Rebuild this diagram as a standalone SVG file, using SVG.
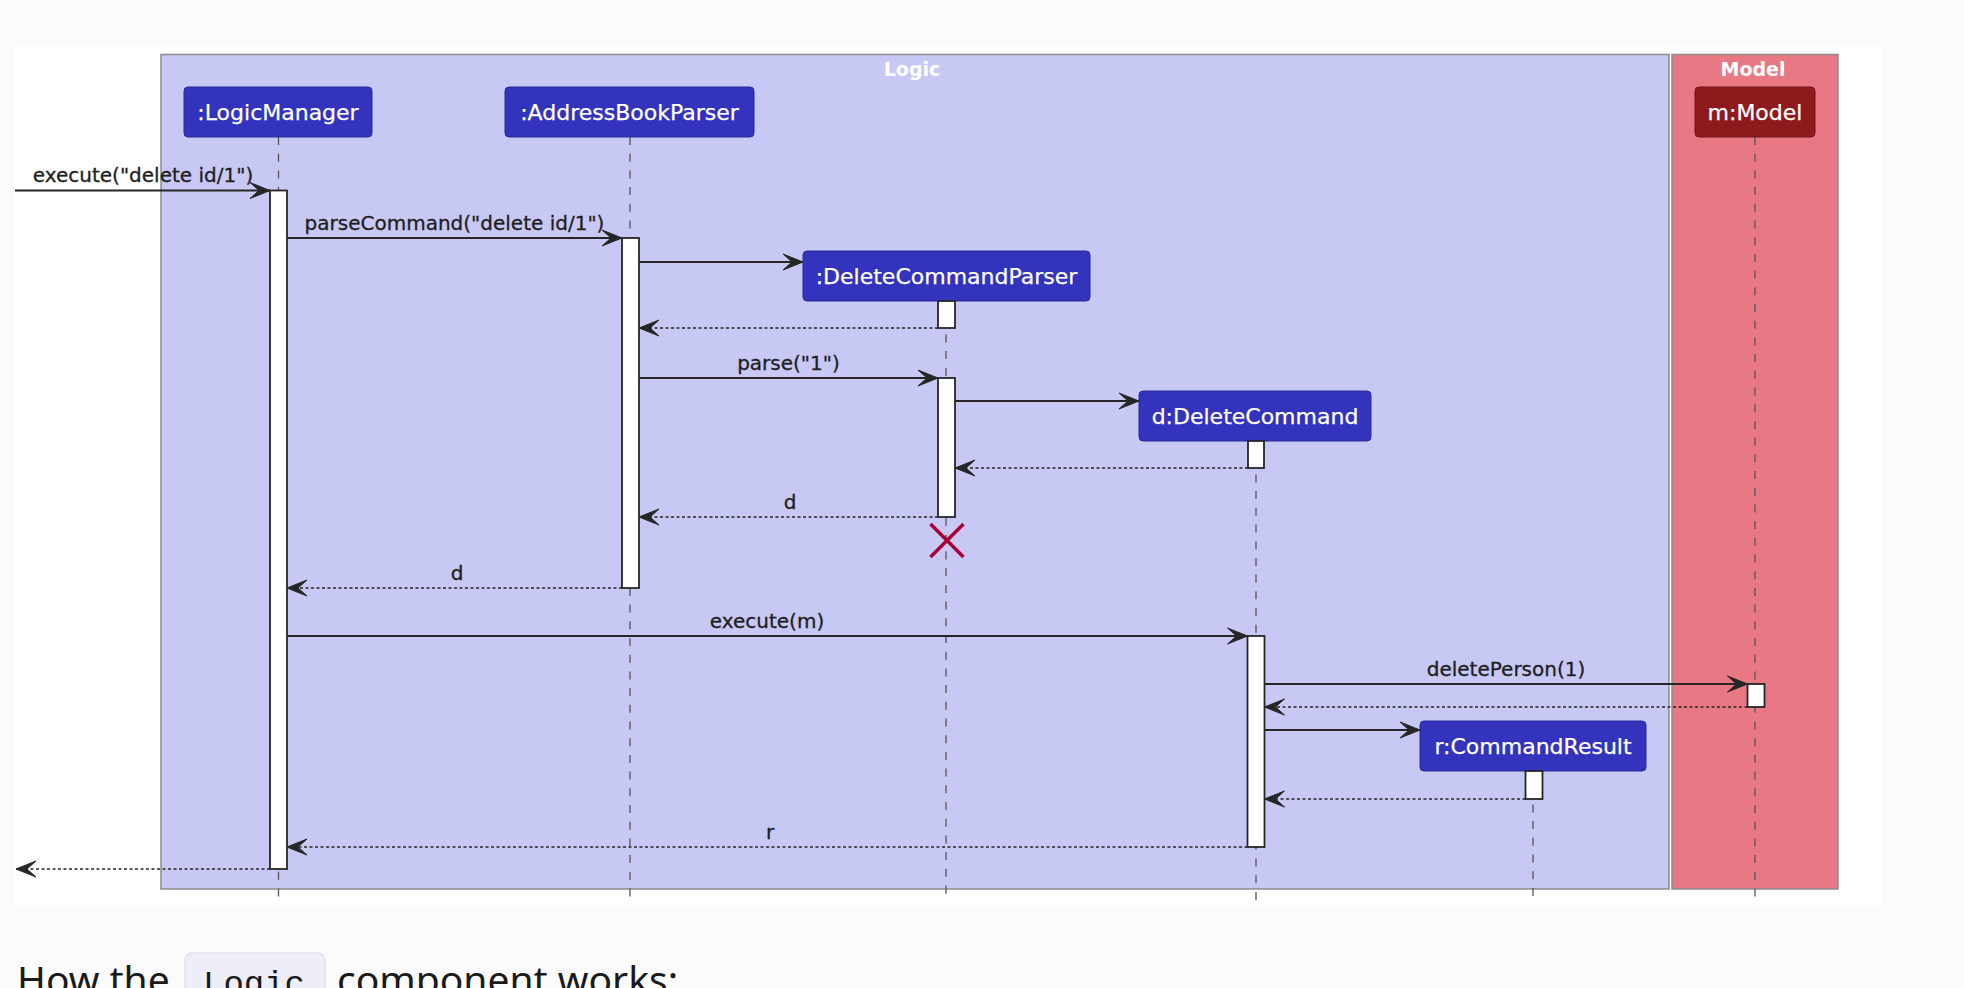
<svg xmlns="http://www.w3.org/2000/svg" width="1964" height="988" viewBox="0 0 1964 988">
  <style>
    .page{fill:#fbfbfb}
    .sheet{fill:#ffffff}
    .frame-logic{fill:#c8c8f5;stroke:#8c8c8c;stroke-width:1.5}
    .frame-model{fill:#e87883;stroke:#8c8c8c;stroke-width:1.5}
    .ftitle{font-family:"DejaVu Sans",sans-serif;font-weight:bold;font-size:19px;fill:#ffffff;text-anchor:middle}
    .box{fill:#3333bd;stroke:#2a2a9a;stroke-width:1}
    .box-model{fill:#8f1a1e;stroke:#701418;stroke-width:1}
    .ptext{font-family:"DejaVu Sans",sans-serif;font-size:22px;fill:#ffffff;stroke:#ffffff;stroke-width:0.25;text-anchor:middle}
    .life{stroke:#555555;stroke-width:1.3;stroke-dasharray:8 8.7;fill:none}
    .act{fill:#ffffff;stroke:#262626;stroke-width:1.8}
    .msg{stroke:#262626;stroke-width:1.8;fill:none;marker-end:url(#head)}
    .ret{stroke:#262626;stroke-width:1.6;stroke-dasharray:3 2.5;fill:none;marker-end:url(#head)}
    .lbl{font-family:"DejaVu Sans",sans-serif;font-size:20px;fill:#1e1e1e;stroke:#1e1e1e;stroke-width:0.3;text-anchor:middle}
    .destroy{stroke:#a80036;stroke-width:3.5;fill:none}
    .prose{font-family:"Noto Sans","Open Sans",sans-serif;font-size:39px;fill:#1a1a1a}
    .code-bg{fill:#eeeef9;stroke:#e2e2ea;stroke-width:1.5}
    .code{font-family:"Liberation Mono","DejaVu Sans Mono",monospace;font-size:34px;fill:#1a1a1a}
  </style>
  <defs>
    <marker id="head" markerUnits="userSpaceOnUse" markerWidth="23" markerHeight="19" refX="21" refY="9" orient="auto">
      <path d="M21,9 L1,1 L10,9 L1,17 Z" fill="#262626" stroke="#262626" stroke-width="1" stroke-dasharray="none"/>
    </marker>
  </defs>

  <!-- page and diagram sheet -->
  <rect class="page" x="0" y="0" width="1964" height="988"/>
  <rect class="sheet" x="14" y="46" width="1868" height="861"/>

  <!-- package frames -->
  <g id="frame-logic">
    <rect class="frame-logic" x="161" y="54.5" width="1508" height="834.5"/>
    <text class="ftitle" x="912" y="76">Logic</text>
  </g>
  <g id="frame-model">
    <rect class="frame-model" x="1672" y="54.5" width="166" height="834.5"/>
    <text class="ftitle" x="1753" y="76">Model</text>
  </g>

  <!-- lifelines -->
  <g id="lifelines">
    <line class="life" x1="278.5" y1="137" x2="278.5" y2="900"/>
    <line class="life" x1="630" y1="137" x2="630" y2="900"/>
    <line class="life" x1="946" y1="301" x2="946" y2="900"/>
    <line class="life" x1="1256" y1="441" x2="1256" y2="900"/>
    <line class="life" x1="1533" y1="771" x2="1533" y2="900"/>
    <line class="life" x1="1755" y1="137" x2="1755" y2="900"/>
  </g>

  <!-- participants -->
  <g id="logicManager">
    <rect class="box" x="184" y="87" width="188" height="50" rx="4"/>
    <text class="ptext" x="278" y="120">:LogicManager</text>
  </g>
  <g id="addressBookParser">
    <rect class="box" x="505" y="87" width="249" height="50" rx="4"/>
    <text class="ptext" x="629.5" y="120">:AddressBookParser</text>
  </g>
  <g id="deleteCommandParser">
    <rect class="box" x="803" y="251" width="287" height="50" rx="4"/>
    <text class="ptext" x="946.5" y="284">:DeleteCommandParser</text>
  </g>
  <g id="deleteCommand">
    <rect class="box" x="1139" y="391" width="232" height="50" rx="4"/>
    <text class="ptext" x="1255" y="424">d:DeleteCommand</text>
  </g>
  <g id="commandResult">
    <rect class="box" x="1420" y="721" width="226" height="50" rx="4"/>
    <text class="ptext" x="1533" y="754">r:CommandResult</text>
  </g>
  <g id="model">
    <rect class="box-model" x="1695" y="87" width="120" height="50" rx="4"/>
    <text class="ptext" x="1755" y="120">m:Model</text>
  </g>

  <!-- activation bars -->
  <g id="activations">
    <rect class="act" x="270" y="190.5" width="17" height="678.5"/>
    <rect class="act" x="622" y="238" width="17" height="350"/>
    <rect class="act" x="938" y="301" width="17" height="27"/>
    <rect class="act" x="938" y="378" width="17" height="139"/>
    <rect class="act" x="1248" y="441" width="16" height="27"/>
    <rect class="act" x="1247.5" y="636" width="17" height="211"/>
    <rect class="act" x="1747.5" y="684" width="17" height="23"/>
    <rect class="act" x="1525.5" y="771" width="17" height="28"/>
  </g>

  <!-- messages -->
  <g id="connectors">
    <path class="msg" d="M15,190.5 H270"/>
    <text class="lbl" x="143" y="182">execute("delete id/1")</text>

    <path class="msg" d="M287,238 H622"/>
    <text class="lbl" x="454.5" y="230">parseCommand("delete id/1")</text>

    <path class="msg" d="M639,262 H803"/>
    <path class="ret" d="M938,328 H639"/>

    <path class="msg" d="M639,378 H938"/>
    <text class="lbl" x="788.5" y="369.5">parse("1")</text>

    <path class="msg" d="M955,401 H1139"/>
    <path class="ret" d="M1248,468 H955"/>

    <path class="ret" d="M938,517 H639"/>
    <text class="lbl" x="790" y="508.5">d</text>

    <path class="destroy" d="M930.5,524 L963.5,557 M963.5,524 L930.5,557"/>

    <path class="ret" d="M622,588 H287"/>
    <text class="lbl" x="457" y="579.5">d</text>

    <path class="msg" d="M287,636 H1247.5"/>
    <text class="lbl" x="767" y="627.5">execute(m)</text>

    <path class="msg" d="M1264.5,684 H1747.5"/>
    <text class="lbl" x="1506" y="675.5">deletePerson(1)</text>

    <path class="ret" d="M1747.5,707 H1264.5"/>
    <path class="msg" d="M1264.5,730 H1420"/>
    <path class="ret" d="M1525.5,799 H1264.5"/>

    <path class="ret" d="M1247.5,847 H287"/>
    <text class="lbl" x="770" y="838.5">r</text>

    <path class="ret" d="M270,869 H16"/>
  </g>

  <!-- caption line below the diagram -->
  <g id="caption">
    <text class="prose" x="17" y="994">How the</text>
    <rect class="code-bg" x="185" y="953" width="140" height="52" rx="7"/>
    <text class="code" x="203" y="994">Logic</text>
    <text class="prose" x="337" y="994">component works:</text>
  </g>
</svg>
